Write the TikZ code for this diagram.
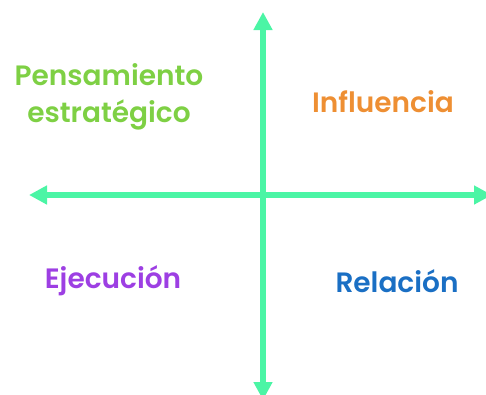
\documentclass[tikz,border=0pt]{standalone}
\usepackage{fontspec}
\IfFontExistsTF{Poppins SemiBold}{\setmainfont{Poppins SemiBold}}{\setmainfont{Poppins}[FakeBold=1.5]}
\usetikzlibrary{arrows.meta}
\definecolor{axiscol}{RGB}{75,245,165}
\definecolor{greencol}{RGB}{126,208,68}
\definecolor{orangecol}{RGB}{238,143,51}
\definecolor{purplecol}{RGB}{157,63,227}
\definecolor{bluecol}{RGB}{26,111,196}
\tikzset{
  axis/.style={draw=axiscol, line width=6pt,
    {Triangle[length=18pt,width=18pt]}-{Triangle[length=18pt,width=18pt]}},
  quad/.style={font=\fontsize{28}{37}\selectfont, align=center, inner sep=0pt}
}
\begin{document}
\begin{tikzpicture}[x=1pt,y=-1pt]
\useasboundingbox (0,0) rectangle (486,394);
\clip (0,0) rectangle (486,394);
\coordinate (top) at (263,12);
\coordinate (bottom) at (263,400);
\coordinate (left) at (29,195);
\coordinate (right) at (492,195);
\draw[axis] (top) -- (bottom);
\draw[axis] (left) -- (right);
\node[quad, text=greencol] (strat) at (109,97) {Pensamiento\\estratégico};
\node[quad, text=orangecol] (infl) at (383,102) {Influencia};
\node[quad, text=purplecol] (ejec) at (113,281) {Ejecución};
\node[quad, text=bluecol] (rel) at (397,281) {Relación};
\end{tikzpicture}
\end{document}
